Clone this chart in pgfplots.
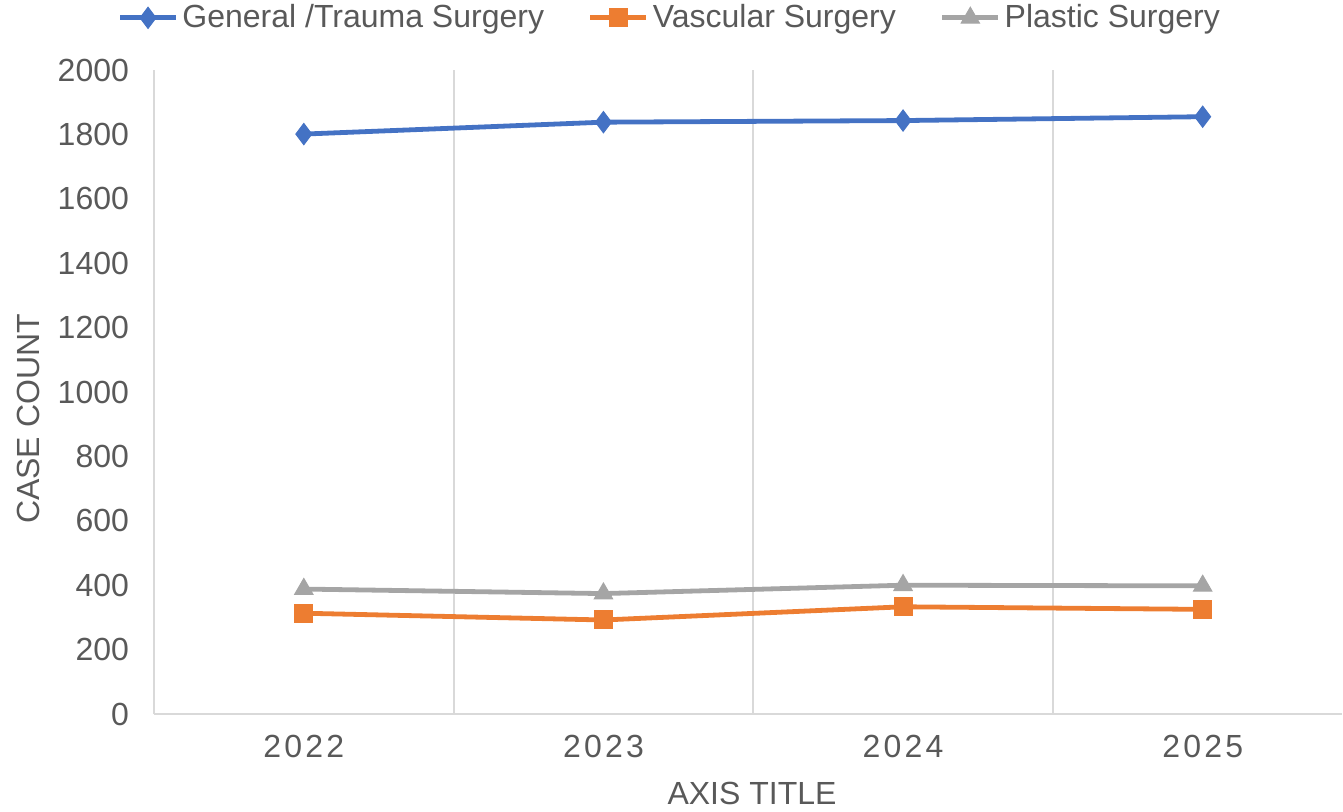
\documentclass[border=0pt]{standalone}
\usepackage{fontspec}
\setmainfont{Liberation Sans}
\usepackage{pgfplots}
\pgfplotsset{compat=1.18}
\definecolor{cblue}{HTML}{4472C4}
\definecolor{corange}{HTML}{ED7D31}
\definecolor{cgray}{HTML}{A5A5A5}
\definecolor{gridgray}{HTML}{D9D9D9}
\definecolor{textgray}{HTML}{595959}
\begin{document}
\begin{tikzpicture}[x=0.5pt,y=0.5pt]
\useasboundingbox (0,0) rectangle (1343,811);
\begin{axis}[
  at={(77pt,48.5pt)}, anchor=south west,
  scale only axis, width=594pt, height=322pt,
  xmin=-0.5, xmax=3.465, ymin=0, ymax=2000,
  xtick={0,1,2,3}, xticklabels={2022,2023,2024,2025},
  ytick={0,200,...,2000},
  yticklabel style={/pgf/number format/1000 sep={}},
  minor xtick={-0.5,0.5,1.5,2.5},
  xminorgrids=true,
  minor x grid style={draw=gridgray, line width=1pt},
  major tick length=0pt, minor tick length=0pt,
  axis x line*=bottom, axis y line*=left,
  axis line style={draw=gridgray, line width=1pt, -},
  /pgf/number format/assume math mode=true,
  yticklabel style={font=\fontsize{16}{18}\selectfont, color=textgray, xshift=-9pt},
  xticklabel style={font=\addfontfeature{LetterSpace=10}\fontsize{16}{18}\selectfont, color=textgray, yshift=-7pt},
  legend columns=3,
  legend style={draw=none, fill=none, at={(rel axis cs:0.435,1.081)}, anchor=center,
    font=\fontsize{16}{18}\selectfont, text=textgray,
    /tikz/every even column/.append style={column sep=20pt}},
  legend cell align=left,
  legend image code/.code={\draw[mark repeat=2,mark phase=2,#1] plot coordinates {(0pt,0pt) (14pt,0pt) (28pt,0pt)};},
]
\addplot[cblue, line width=2.4pt, mark=diamond*, mark size=5.3pt, mark options={solid, line width=0.5pt, fill=cblue}]
  coordinates {(0,1801) (1,1838) (2,1843) (3,1855)};
\addlegendentry{General /Trauma Surgery}
\addplot[corange, line width=2.4pt, mark=square*, mark size=4.5pt, mark options={solid, line width=0.5pt, fill=corange}]
  coordinates {(0,313) (1,292) (2,333) (3,325)};
\addlegendentry{Vascular Surgery}
\addplot[cgray, line width=2.4pt, mark=triangle*, mark size=5.3pt, mark options={solid, line width=0.5pt, fill=cgray}]
  coordinates {(0,388) (1,374) (2,400) (3,398)};
\addlegendentry{Plastic Surgery}
\end{axis}
\node[rotate=90, text=textgray, font=\fontsize{16}{18}\selectfont] at (28,392) {CASE COUNT};
\node[text=textgray, font=\fontsize{16}{18}\selectfont] at (752,18) {AXIS TITLE};
\end{tikzpicture}
\end{document}
